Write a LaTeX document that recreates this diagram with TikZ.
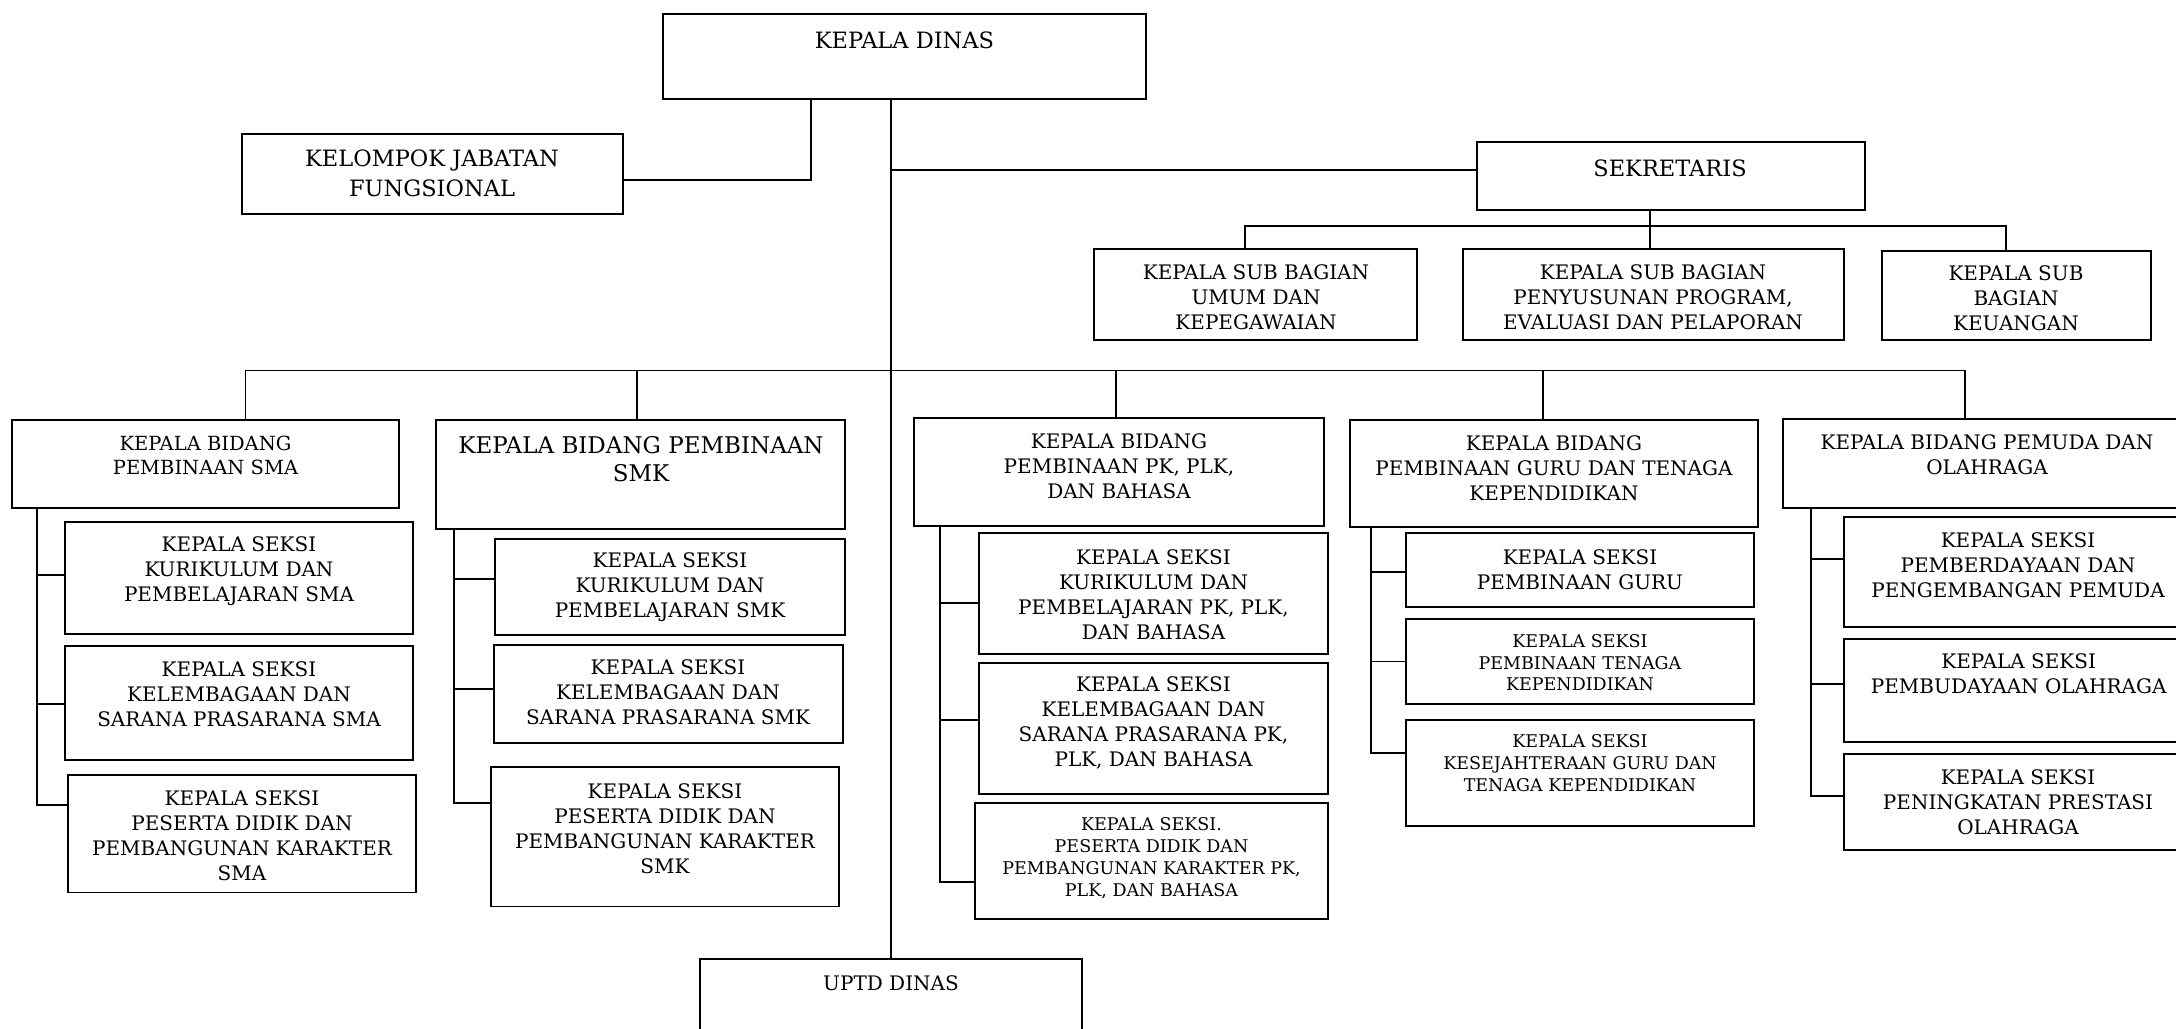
\documentclass[tikz,border=0pt]{standalone}
\usepackage{fontspec}
\setmainfont{DejaVu Serif}
\newcommand\orgbox[5]{\node[box, minimum width={#4-#2}, minimum height={#5-#3}] (#1) at ({(#2+#4)/2},{(#3+#5)/2}) {};}
\newcommand\orgtxt[5]{\node[lbl,#4] (#1) at (#2,#3) {#5};}
\begin{document}
\begin{tikzpicture}[x=1pt,y=-1pt,
  box/.style={draw, line width=1.8pt, inner sep=0pt, rectangle},
  conn/.style={line width=1.9pt},
  lbl/.style={align=center, inner sep=0pt},
  fbig/.style={font=\fontsize{22.5}{30}\selectfont},
  fsmk/.style={font=\fontsize{23}{28}\selectfont},
  fmid/.style={font=\fontsize{20}{25}\selectfont},
  fbid/.style={font=\fontsize{19.5}{24}\selectfont},
  fsml/.style={font=\fontsize{17.5}{21.8}\selectfont}]
\useasboundingbox (0,0) rectangle (2176,1028);
\clip (0,0) rectangle (2176,1028);
% boxes
\orgbox{kd}{663}{14}{1146}{99}
\orgbox{kjf}{242}{134}{623}{214}
\orgbox{sek}{1477}{142}{1865}{210}
\orgbox{ksb1}{1094}{249}{1417}{340}
\orgbox{ksb2}{1463}{249}{1844}{340}
\orgbox{ksb3}{1882}{251}{2151}{340}
\orgbox{sma}{12}{420}{399}{508}
\orgbox{smk}{436}{420}{845}{529}
\orgbox{pk}{914}{418}{1324}{526}
\orgbox{guru}{1350}{420}{1758}{527}
\orgbox{pemuda}{1783}{419}{2195}{508}
\orgbox{k1}{65}{522}{413}{634}
\orgbox{k2}{65}{646}{413}{760}
\orgbox{k3}{68}{775}{416}{892.5}
\orgbox{s1}{495}{539}{845}{635}
\orgbox{s2}{494}{645}{843}{743}
\orgbox{s3}{491}{767}{839}{906.5}
\orgbox{p1}{979}{533}{1328}{654}
\orgbox{p2}{979}{663}{1328}{794}
\orgbox{p3}{975}{803}{1328}{919}
\orgbox{g1}{1406}{533}{1754}{607}
\orgbox{g2}{1406}{619}{1754}{704}
\orgbox{g3}{1406}{720}{1754}{826}
\orgbox{e1}{1844}{517}{2195}{627}
\orgbox{e2}{1844}{639}{2195}{742}
\orgbox{e3}{1844}{754}{2195}{850}
\orgbox{uptd}{700}{959}{1082}{1045}
% texts
\orgtxt{kdt}{904.5}{40}{fbig}{KEPALA DINAS}
\orgtxt{kjft}{432}{173}{fbig}{KELOMPOK JABATAN\\FUNGSIONAL}
\orgtxt{sekt}{1670}{168}{fbig}{SEKRETARIS}
\orgtxt{ksb1t}{1256}{297.5}{fmid}{KEPALA SUB BAGIAN\\UMUM DAN\\KEPEGAWAIAN}
\orgtxt{ksb2t}{1653}{297.5}{fmid}{KEPALA SUB BAGIAN\\PENYUSUNAN PROGRAM,\\EVALUASI DAN PELAPORAN}
\orgtxt{ksb3t}{2016}{298.7}{fmid}{KEPALA SUB\\BAGIAN\\KEUANGAN}
\orgtxt{smat}{205.5}{455.8}{fbid}{KEPALA BIDANG\\PEMBINAAN SMA}
\orgtxt{smkt}{641}{459}{fsmk}{KEPALA BIDANG PEMBINAAN\\SMK}
\orgtxt{pkt}{1119}{466.4}{fmid}{KEPALA BIDANG\\PEMBINAAN PK, PLK,\\DAN BAHASA}
\orgtxt{gurut}{1554}{467.8}{fmid}{KEPALA BIDANG\\PEMBINAAN GURU DAN TENAGA\\KEPENDIDIKAN}
\orgtxt{pemudat}{1987}{454.5}{fmid}{KEPALA BIDANG PEMUDA DAN\\OLAHRAGA}
\orgtxt{k1t}{239}{571}{fmid}{KEPALA SEKSI\\KURIKULUM DAN\\PEMBELAJARAN SMA}
\orgtxt{k2t}{239}{694}{fmid}{KEPALA SEKSI\\KELEMBAGAAN DAN\\SARANA PRASARANA SMA}
\orgtxt{k3t}{242}{835.5}{fmid}{KEPALA SEKSI\\PESERTA DIDIK DAN\\PEMBANGUNAN KARAKTER\\SMA}
\orgtxt{s1t}{670}{587}{fmid}{KEPALA SEKSI\\KURIKULUM DAN\\PEMBELAJARAN SMK}
\orgtxt{s2t}{668}{692}{fmid}{KEPALA SEKSI\\KELEMBAGAAN DAN\\SARANA PRASARANA SMK}
\orgtxt{s3t}{665}{828.3}{fmid}{KEPALA SEKSI\\PESERTA DIDIK DAN\\PEMBANGUNAN KARAKTER\\SMK}
\orgtxt{p1t}{1153.5}{594.7}{fmid}{KEPALA SEKSI\\KURIKULUM DAN\\PEMBELAJARAN PK, PLK,\\DAN BAHASA}
\orgtxt{p2t}{1153.5}{723.1}{fmid}{KEPALA SEKSI\\KELEMBAGAAN DAN\\SARANA PRASARANA PK,\\PLK, DAN BAHASA}
\orgtxt{p3t}{1151.5}{858.3}{fsml}{KEPALA SEKSI.\\PESERTA DIDIK DAN\\PEMBANGUNAN KARAKTER PK,\\PLK, DAN BAHASA}
\orgtxt{g1t}{1580}{569.6}{fmid}{KEPALA SEKSI\\PEMBINAAN GURU}
\orgtxt{g2t}{1580}{662.7}{fsml}{KEPALA SEKSI\\PEMBINAAN TENAGA\\KEPENDIDIKAN}
\orgtxt{g3t}{1580}{763.4}{fsml}{KEPALA SEKSI\\KESEJAHTERAAN GURU DAN\\TENAGA KEPENDIDIKAN}
\orgtxt{e1t}{2018}{565}{fmid}{KEPALA SEKSI\\PEMBERDAYAAN DAN\\PENGEMBANGAN PEMUDA}
\orgtxt{e2t}{2018.7}{673.8}{fmid}{KEPALA SEKSI\\PEMBUDAYAAN OLAHRAGA}
\orgtxt{e3t}{2018}{802}{fmid}{KEPALA SEKSI\\PENINGKATAN PRESTASI\\OLAHRAGA}
\orgtxt{uptdt}{891}{983.3}{fmid}{UPTD DINAS}
% connectors top
\coordinate (jk) at (811,180);
\draw[conn] (kd.south -| jk) -- (jk) -- (jk -| kjf.east);
\draw[conn] (kd.south -| uptd.north) -- (uptd.north);
\coordinate (js) at (891,170);
\draw[conn] (js) -- (js -| sek.west);
\coordinate (sb) at (1650,226);
\coordinate (sb1) at (1245,226);
\coordinate (sb3) at (2006,226);
\draw[conn] (sek.south -| sb) -- (sb |- ksb2.north);
\draw[conn] (sb1 |- ksb1.north) -- (sb1) -- (sb3) -- (sb3 |- ksb3.north);
% main bus
\coordinate (mb1) at (245.5,370.5);
\coordinate (mb2) at (637,370.5);
\coordinate (mb3) at (1116,370.5);
\coordinate (mb4) at (1543,370.5);
\coordinate (mb5) at (1965,370.5);
\draw[conn] (mb1 |- sma.north) -- (mb1) -- (mb5) -- (mb5 |- pemuda.north);
\draw[conn] (mb2) -- (mb2 |- smk.north);
\draw[conn] (mb3) -- (mb3 |- pk.north);
\draw[conn] (mb4) -- (mb4 |- guru.north);
% SMA group
\draw[conn] (sma.south -| 37,0) -- (37,805) -- (37,805 -| k3.west);
\draw[conn] (37,575) -- (37,575 -| k1.west);
\draw[conn] (37,704) -- (37,704 -| k2.west);
% SMK group
\draw[conn] (smk.south -| 454,0) -- (454,803) -- (454,803 -| s3.west);
\draw[conn] (454,579) -- (454,579 -| s1.west);
\draw[conn] (454,689) -- (454,689 -| s2.west);
% PK group
\draw[conn] (pk.south -| 940,0) -- (940,882) -- (940,882 -| p3.west);
\draw[conn] (940,603) -- (940,603 -| p1.west);
\draw[conn] (940,720) -- (940,720 -| p2.west);
% Guru group
\draw[conn] (guru.south -| 1371,0) -- (1371,753) -- (1371,753 -| g3.west);
\draw[conn] (1371,572) -- (1371,572 -| g1.west);
\draw[conn] (1371,661.5) -- (1371,661.5 -| g2.west);
% Pemuda group
\draw[conn] (pemuda.south -| 1811,0) -- (1811,796) -- (1811,796 -| e3.west);
\draw[conn] (1811,559) -- (1811,559 -| e1.west);
\draw[conn] (1811,684) -- (1811,684 -| e2.west);
\end{tikzpicture}
\end{document}
